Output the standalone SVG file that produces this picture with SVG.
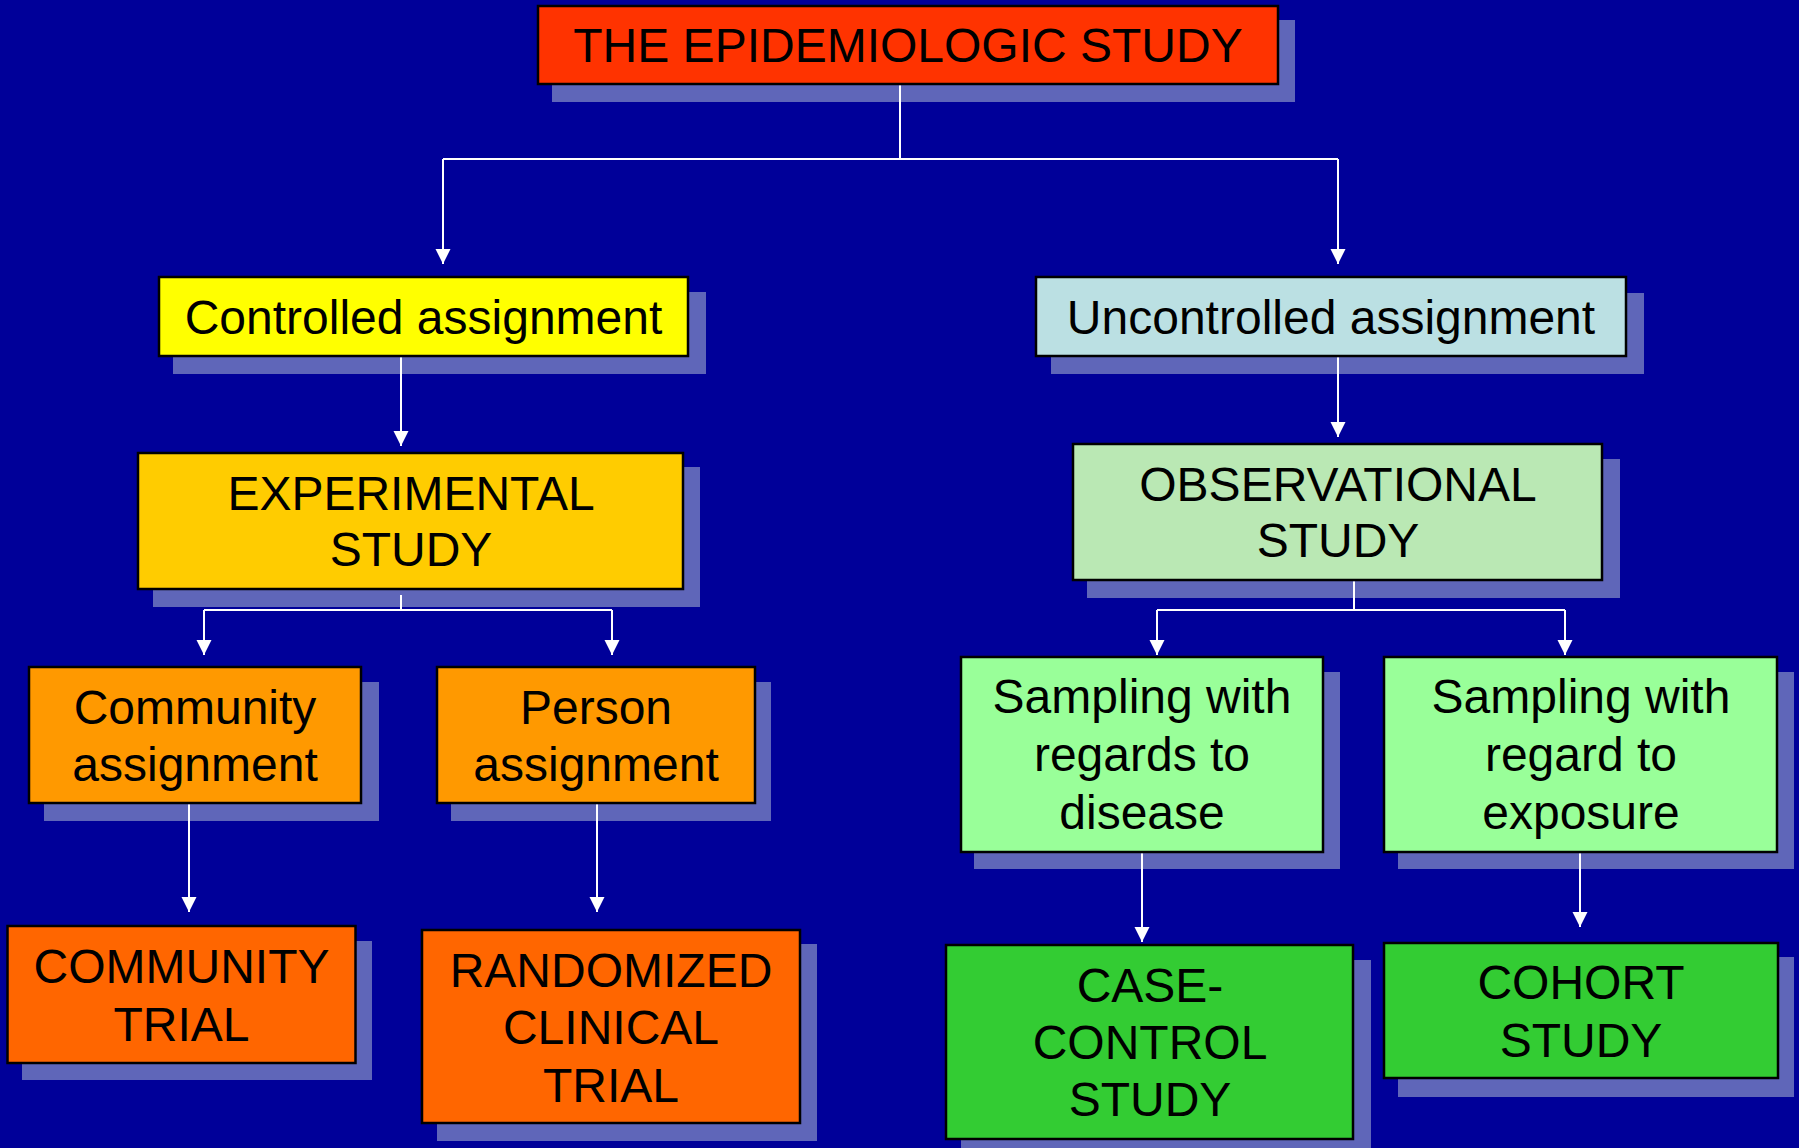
<svg xmlns="http://www.w3.org/2000/svg" width="1799" height="1148" viewBox="0 0 1799 1148">
<style>
.sh{fill:#5F66B9}
.bx{stroke:#000;stroke-width:2.5}
.t{font-family:"Liberation Sans",Arial,sans-serif;font-size:48px;fill:#000;text-anchor:middle}
.c{stroke:#fff;stroke-width:2;fill:none}
</style>
<defs>
<marker id="ah" markerUnits="userSpaceOnUse" markerWidth="16" markerHeight="16" viewBox="0 0 16 16" refX="15" refY="8" orient="auto">
<path d="M0,0.5 L15,8 L0,15.5 z" fill="#fff"/>
</marker>
</defs>
<rect width="1799" height="1148" fill="#000099"/>

<g id="title">
<rect class="sh" x="552" y="20" width="743" height="82"/>
<rect class="bx" x="538" y="6" width="740" height="78" fill="#FF3300"/>
<text class="t" x="908" y="62">THE EPIDEMIOLOGIC STUDY</text>
</g>

<g id="controlled">
<rect class="sh" x="173" y="292" width="533" height="82"/>
<rect class="bx" x="159" y="277" width="529" height="79" fill="#FFFF00"/>
<text class="t" x="423.5" y="334">Controlled assignment</text>
</g>

<g id="uncontrolled">
<rect class="sh" x="1051" y="293" width="593" height="81"/>
<rect class="bx" x="1036" y="277" width="590" height="79" fill="#BBE0E3"/>
<text class="t" x="1331" y="334">Uncontrolled assignment</text>
</g>

<g id="experimental">
<rect class="sh" x="153" y="467" width="547" height="140"/>
<rect class="bx" x="138" y="453" width="545" height="136" fill="#FFCC00"/>
<text class="t" x="411" y="510">EXPERIMENTAL</text>
<text class="t" x="411" y="566">STUDY</text>
</g>

<g id="observational">
<rect class="sh" x="1087" y="459" width="533" height="139"/>
<rect class="bx" x="1073" y="444" width="529" height="136" fill="#BAE8B4"/>
<text class="t" x="1338" y="501">OBSERVATIONAL</text>
<text class="t" x="1338" y="557">STUDY</text>
</g>

<g id="community-assignment">
<rect class="sh" x="44" y="682" width="335" height="139"/>
<rect class="bx" x="29" y="667" width="332" height="136" fill="#FF9900"/>
<text class="t" x="195" y="724">Community</text>
<text class="t" x="195" y="781">assignment</text>
</g>

<g id="person-assignment">
<rect class="sh" x="451" y="682" width="320" height="139"/>
<rect class="bx" x="437" y="667" width="318" height="136" fill="#FF9900"/>
<text class="t" x="596" y="724">Person</text>
<text class="t" x="596" y="781">assignment</text>
</g>

<g id="sampling-disease">
<rect class="sh" x="974" y="672" width="366" height="197"/>
<rect class="bx" x="961" y="657" width="362" height="195" fill="#99FF99"/>
<text class="t" x="1142" y="713">Sampling with</text>
<text class="t" x="1142" y="771">regards to</text>
<text class="t" x="1142" y="829">disease</text>
</g>

<g id="sampling-exposure">
<rect class="sh" x="1398" y="672" width="396" height="197"/>
<rect class="bx" x="1384" y="657" width="393" height="195" fill="#99FF99"/>
<text class="t" x="1581" y="713">Sampling with</text>
<text class="t" x="1581" y="771">regard to</text>
<text class="t" x="1581" y="829">exposure</text>
</g>

<g id="community-trial">
<rect class="sh" x="22" y="941" width="350" height="139"/>
<rect class="bx" x="7.5" y="926" width="348" height="137" fill="#FF6600"/>
<text class="t" x="181.5" y="983">COMMUNITY</text>
<text class="t" x="181.5" y="1041">TRIAL</text>
</g>

<g id="randomized-clinical-trial">
<rect class="sh" x="437" y="944" width="380" height="197"/>
<rect class="bx" x="422" y="930" width="378" height="193" fill="#FF6600"/>
<text class="t" x="611" y="987">RANDOMIZED</text>
<text class="t" x="611" y="1044">CLINICAL</text>
<text class="t" x="611" y="1102">TRIAL</text>
</g>

<g id="case-control">
<rect class="sh" x="961" y="960" width="410" height="190"/>
<rect class="bx" x="946" y="945" width="407" height="194" fill="#33CC33"/>
<text class="t" x="1150" y="1002">CASE-</text>
<text class="t" x="1150" y="1059">CONTROL</text>
<text class="t" x="1150" y="1116">STUDY</text>
</g>

<g id="cohort">
<rect class="sh" x="1398" y="957" width="396" height="140"/>
<rect class="bx" x="1384" y="943" width="394" height="135" fill="#33CC33"/>
<text class="t" x="1581" y="999">COHORT</text>
<text class="t" x="1581" y="1057">STUDY</text>
</g>

<g id="connectors">
<path class="c" d="M900,85.5 V159"/>
<path class="c" d="M443,159 H1338"/>
<path class="c" d="M443,159 V264" marker-end="url(#ah)"/>
<path class="c" d="M1338,159 V264" marker-end="url(#ah)"/>
<path class="c" d="M401,357.5 V446" marker-end="url(#ah)"/>
<path class="c" d="M1338,357.5 V437" marker-end="url(#ah)"/>
<path class="c" d="M401,595 V610"/>
<path class="c" d="M204,610 H612"/>
<path class="c" d="M204,610 V655" marker-end="url(#ah)"/>
<path class="c" d="M612,610 V655" marker-end="url(#ah)"/>
<path class="c" d="M1354,581.5 V610"/>
<path class="c" d="M1157,610 H1565"/>
<path class="c" d="M1157,610 V655" marker-end="url(#ah)"/>
<path class="c" d="M1565,610 V655" marker-end="url(#ah)"/>
<path class="c" d="M189,804.5 V912" marker-end="url(#ah)"/>
<path class="c" d="M597,804.5 V912" marker-end="url(#ah)"/>
<path class="c" d="M1142,853.5 V942" marker-end="url(#ah)"/>
<path class="c" d="M1580,853.5 V927" marker-end="url(#ah)"/>
</g>
</svg>
